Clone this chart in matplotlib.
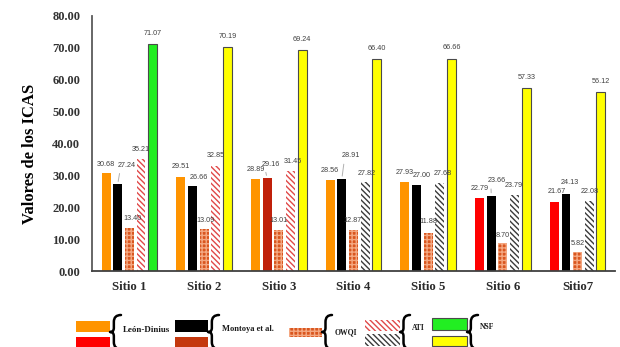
import matplotlib
matplotlib.use('Agg')
import matplotlib.pyplot as plt
from matplotlib.patches import Rectangle, PathPatch
from matplotlib.path import Path
import numpy as np

# ---- data ----
sites = ['Sitio 1', 'Sitio 2', 'Sitio 3', 'Sitio 4', 'Sitio 5', 'Sitio 6', 'Sitio7']
leon_dinius = [30.68, 29.51, 28.89, 28.56, 27.93, 22.79, 21.67]
montoya = [27.24, 26.66, 29.16, 28.91, 27.00, 23.66, 24.13]
owqi = [13.40, 13.09, 13.01, 12.87, 11.88, 8.70, 5.82]
ati = [35.21, 32.85, 31.45, 27.82, 27.68, 23.79, 22.08]
nsf = [71.07, 70.19, 69.24, 66.40, 66.66, 57.33, 56.12]
y_ticks = [0, 10, 20, 30, 40, 50, 60, 70, 80]
legend_labels = ['León-Dinius', 'Montoya et al.', 'OWQI', 'ATI', 'NSF']
y_label = 'Valores de los ICAS'

# ---- styles ----
W, H = 620, 347
plt.rcParams['hatch.linewidth'] = 1.0
SERIF = 'Liberation Serif'
LABEL_FONT = 'Liberation Sans'

ORANGE = '#FF9400'
RED = '#FF0000'
DARK_RED = '#C0200A'
BRICK = '#D9561F'
BRICK_LINE = '#F4A882'
ATI_RED = '#E04848'
ATI_GRAY = '#3A3A3A'
GREEN = '#22EE22'
YELLOW = '#FFFF00'
ATI_HATCH = '\\' * 6
BRICK_HATCH = '++++'

fig = plt.figure(figsize=(W / 100, H / 100), dpi=100)
ax = fig.add_axes([92 / W, 1 - 271 / H, (615 - 92) / W, (271 - 16) / H])

x = np.arange(len(sites))
pitch = 0.156
width = 0.12
n = len(sites)

series = [
    dict(vals=leon_dinius,
         face=[ORANGE if i < 5 else RED for i in range(n)],
         edge=['none'] * n, hatch=None, lw=0),
    dict(vals=montoya,
         face=[DARK_RED if i == 2 else 'black' for i in range(n)],
         edge=['none'] * n, hatch=None, lw=0),
    dict(vals=owqi, face=[BRICK] * n, edge=[BRICK_LINE] * n,
         hatch=BRICK_HATCH, lw=0),
    dict(vals=ati, face=['white'] * n,
         edge=[ATI_RED if i < 3 else ATI_GRAY for i in range(n)],
         hatch=ATI_HATCH, lw=0),
    dict(vals=nsf, face=[GREEN if i == 0 else YELLOW for i in range(n)],
         edge=['#4a4a4a'] * n, hatch=None, lw=0.8),
]

for k, s in enumerate(series):
    bars = ax.bar(x + (k - 2) * pitch, s['vals'], width=width,
                  color=s['face'], edgecolor=s['edge'], linewidth=s['lw'],
                  zorder=2)
    if s['hatch']:
        for b in bars:
            b.set_hatch(s['hatch'])

# value labels: offsets in pixels (dx, dy) of the label centre from the bar top
px2pt = 72 / 100
montoya_off = [(9, 19), (6, 9), (4, 14), (9, 23), (5, 9), (6, 15), (4, 12)]
leader = [True, False, True, True, False, True, False]
owqi_off = [(3, 10), (1, 9), (0, 9), (-1, 9), (0, 12), (0, 8), (0, 9)]
ati_off = [(0, 9), (0, 11), (2, 9), (2, 9), (3, 9), (-1, 10), (0, 9)]
ld_off = [(0, 9), (0, 10), (0, 9), (0, 9), (0, 9), (0, 10), (2, 10)]
nsf_off = [(0, 11)] * n
offsets = [ld_off, montoya_off, owqi_off, ati_off, nsf_off]

for k, s in enumerate(series):
    for i, v in enumerate(s['vals']):
        dx, dy = offsets[k][i]
        xb = x[i] + (k - 2) * pitch
        kw = {}
        if k == 1 and leader[i]:
            kw['arrowprops'] = dict(arrowstyle='-', color='#b0b0b0', lw=0.7,
                                    shrinkA=1.5, shrinkB=2,
                                    relpos=(0.15, 0.0))
        ax.annotate(f'{v:.2f}', xy=(xb, v), xytext=(dx * px2pt, dy * px2pt),
                    textcoords='offset points', ha='center', va='center',
                    fontsize=5.2, color='#404040', family=LABEL_FONT,
                    zorder=3, **kw)

# ---- axes ----
ax.set_xlim(-0.5, 6.5)
ax.set_ylim(0, 80)
ax.set_yticks(y_ticks)
ax.set_yticklabels([f'{t:.2f}' for t in y_ticks], family=SERIF,
                   fontweight='bold', fontsize=9, color='#333333')
ax.set_xticks(x)
ax.set_xticklabels(sites, family=SERIF, fontweight='bold', fontsize=9.2,
                   color='#2a2a2a')
ax.tick_params(axis='y', length=0, pad=8.5)
ax.tick_params(axis='x', length=0, pad=7)
for side in ('top', 'right'):
    ax.spines[side].set_visible(False)
ax.spines['left'].set_color('#5a5a5a')
ax.spines['left'].set_linewidth(1.3)
ax.spines['bottom'].set_color('#404040')
ax.spines['bottom'].set_linewidth(1.3)

fig.text(30 / W, 1 - 154 / H, y_label, rotation=90, ha='center', va='center',
         family=SERIF, fontweight='bold', fontsize=12, color='black')


# ---- legend built from boxes and braces ----
def fx(px):
    return px / W


def fy(py):
    return 1 - py / H


def box(x0, y0, x1, y1, face, edge='none', hatch=None, lw=0):
    r = Rectangle((fx(x0), fy(y1)), (x1 - x0) / W, (y1 - y0) / H,
                  transform=fig.transFigure, facecolor=face, edgecolor=edge,
                  linewidth=lw, hatch=hatch)
    fig.add_artist(r)


def brace(x0, x1, yt, yb):
    ym = (yt + yb) / 2
    w = x1 - x0
    xs = x0 + 0.35 * w
    h = yb - yt
    verts = [
        (x1, yt), (xs, yt), (xs, yt + 0.2 * h),
        (xs, ym - 0.12 * h),
        (xs, ym), (x0, ym),
        (xs, ym), (xs, ym + 0.12 * h),
        (xs, yb - 0.2 * h),
        (xs, yb), (x1, yb),
    ]
    codes = [Path.MOVETO, Path.CURVE3, Path.CURVE3, Path.LINETO,
             Path.CURVE3, Path.CURVE3, Path.CURVE3, Path.CURVE3,
             Path.LINETO, Path.CURVE3, Path.CURVE3]
    p = Path([(fx(a), fy(b)) for a, b in verts], codes)
    fig.add_artist(PathPatch(p, transform=fig.transFigure, facecolor='none',
                             edgecolor='black', linewidth=1.8,
                             capstyle='round', joinstyle='round'))


def legend_text(xp, yp, s, size):
    fig.text(fx(xp), fy(yp), s, ha='left', va='center', family=SERIF,
             fontweight='bold', fontsize=size, color='#1a1a1a')


# León-Dinius
box(76, 321, 110, 332, ORANGE)
box(76, 337, 110, 349, RED)
brace(110, 121, 315, 349)
legend_text(123, 330, legend_labels[0], 6.5)

# Montoya et al.
box(175, 320, 208, 332, 'black')
box(175, 337, 208, 349, '#C4380E')
brace(208, 219, 315, 349)
legend_text(222, 329, legend_labels[1], 6)

# OWQI
box(289, 328, 322, 337, BRICK, BRICK_LINE, BRICK_HATCH)
brace(322, 332, 315, 349)
legend_text(335, 332, legend_labels[2], 5.5)

# ATI
box(365, 320, 400, 331, 'white', ATI_RED, ATI_HATCH)
box(365, 334, 400, 346, 'white', ATI_GRAY, ATI_HATCH)
brace(400, 410, 315, 349)
legend_text(412, 328, legend_labels[3], 5.5)

# NSF
box(432, 318, 467, 330, GREEN, '#4a4a4a', None, 0.8)
box(432, 336, 467, 346, YELLOW, '#4a4a4a', None, 0.8)
brace(467, 478, 315, 349)
legend_text(480, 327, legend_labels[4], 5.5)

fig.savefig('out.png', dpi=100)
